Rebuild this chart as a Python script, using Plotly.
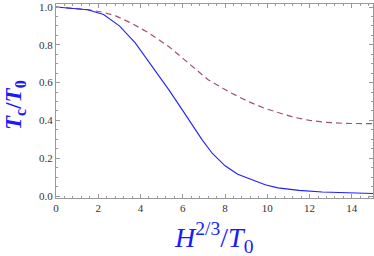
import plotly.graph_objects as go

# Blue solid curve
x_solid = [0, 1.5, 2.25, 3.0, 3.75, 4.4, 4.9, 5.35, 6.0, 6.45, 6.9, 7.4, 8.0, 8.6, 9.2, 9.9, 10.5, 11.5, 12.6, 13.8, 15.0]
y_solid = [1.0, 0.986, 0.96, 0.90, 0.81, 0.71, 0.635, 0.56, 0.452, 0.375, 0.30, 0.225, 0.16, 0.115, 0.088, 0.06, 0.043, 0.030, 0.021, 0.016, 0.013]

# Red dashed curve
x_dash = [0, 1.5, 2.2, 2.85, 3.6, 4.4, 5.35, 6.3, 7.2, 8.2, 9.1, 9.9, 10.4, 11.2, 12.0, 12.75, 13.7, 15.0]
y_dash = [1.0, 0.986, 0.973, 0.952, 0.913, 0.862, 0.79, 0.70, 0.615, 0.55, 0.50, 0.463, 0.445, 0.418, 0.40, 0.39, 0.384, 0.383]

x_ticks = [0, 2, 4, 6, 8, 10, 12, 14]
y_ticks = [0.0, 0.2, 0.4, 0.6, 0.8, 1.0]
y_tick_text = ["0.0", "0.2", "0.4", "0.6", "0.8", "1.0"]

SERIF = "Liberation Serif"

fig = go.Figure()
fig.add_trace(go.Scatter(x=x_dash, y=y_dash, mode="lines",
                         line=dict(color="#a0507f", width=1.2, dash="6px,4px"),
                         showlegend=False, hoverinfo="skip"))
fig.add_trace(go.Scatter(x=x_solid, y=y_solid, mode="lines",
                         line=dict(color="#2020ff", width=1.1),
                         showlegend=False, hoverinfo="skip"))

frame = "#999999"
tickfont = dict(family=SERIF, size=11, color="#333333")

fig.update_xaxes(range=[0, 15], showgrid=False, zeroline=False,
                 showline=True, linecolor=frame, linewidth=1, mirror="ticks",
                 ticks="inside", ticklen=4, tickcolor=frame, tickwidth=1,
                 tickvals=x_ticks, tickfont=tickfont,
                 minor=dict(dtick=0.4, tick0=0, ticks="inside", ticklen=2, tickcolor=frame, showgrid=False))
fig.update_yaxes(range=[-0.0105, 1.016], showgrid=False, zeroline=False,
                 showline=True, linecolor=frame, linewidth=1, mirror="ticks",
                 ticks="inside", ticklen=4, tickcolor=frame, tickwidth=1,
                 tickvals=y_ticks, ticktext=y_tick_text, tickfont=tickfont,
                 minor=dict(dtick=0.05, tick0=0, ticks="inside", ticklen=2, tickcolor=frame, showgrid=False))

fig.add_annotation(text="<i>H</i><sup>2/3</sup>/<i>T</i><sub>0</sub>",
                   xref="paper", yref="paper", x=0.498, y=-0.205,
                   xanchor="center", yanchor="middle", showarrow=False,
                   font=dict(family=SERIF, size=28, color="#1a1aff"))
fig.add_annotation(text="<b><i>T</i><sub>c</sub>/<i>T</i><sub>0</sub></b>",
                   xref="paper", yref="paper", x=-0.129, y=0.48,
                   xanchor="center", yanchor="middle", showarrow=False, textangle=-90,
                   font=dict(family=SERIF, size=23, color="#1a1aff"))

fig.update_layout(width=374, height=256, margin=dict(l=56, r=1, t=4, b=58),
                  paper_bgcolor="white", plot_bgcolor="white")
fig.write_html("out.html", config={"displayModeBar": False})

with open("out.html", "r", encoding="utf-8") as f:
    html = f.read()
html = html.replace("<body>", '<body style="margin:0;padding:0;overflow:hidden">', 1)
with open("out.html", "w", encoding="utf-8") as f:
    f.write(html)
